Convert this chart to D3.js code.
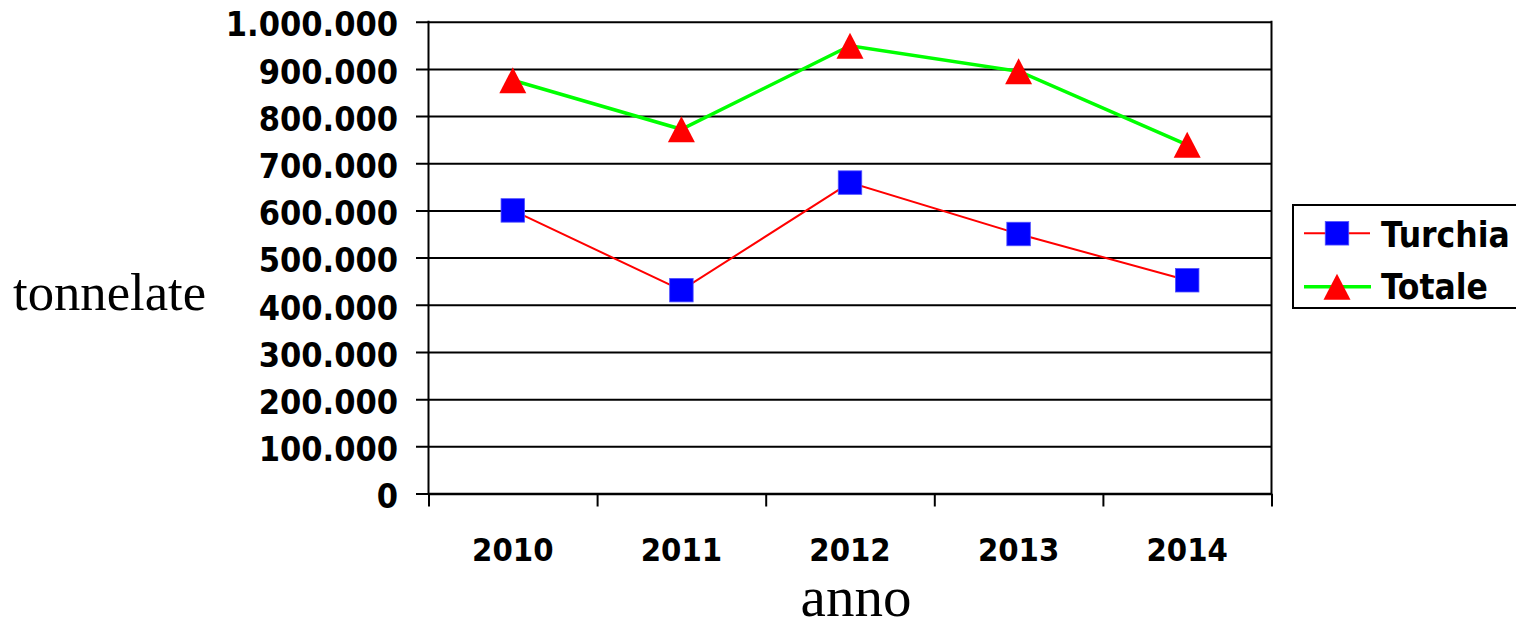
<!DOCTYPE html>
<html>
<head>
<meta charset="utf-8">
<script src="https://cdn.jsdelivr.net/npm/d3@7"></script>
<style>
  html, body { margin: 0; padding: 0; background: #fff; }
  svg { display: block; }
  .bold { font-family: 'DejaVu Sans Condensed', 'DejaVu Sans', Verdana, sans-serif; font-stretch: condensed; font-weight: bold; }
</style>
</head>
<body>
<svg id="chart" width="1516" height="627"></svg>
<script>
const years = ["2010", "2011", "2012", "2013", "2014"];
const turchia = [600000, 431000, 659000, 550000, 452000];
const totale = [876000, 772000, 949000, 895000, 739000];
const yTicks = [0, 100000, 200000, 300000, 400000, 500000, 600000, 700000, 800000, 900000, 1000000];
const seriesNames = ["Turchia", "Totale"];

const svg = d3.select("#chart");
const plotLeft = 428.5, plotRight = 1271.5, plotTop = 21.7, plotBottom = 493.5;

const x = d3.scaleBand().domain(years).range([plotLeft, plotRight]).padding(0);
const xEdges = d3.scaleLinear().domain([0, years.length]).range([plotLeft, plotRight]);
const y = d3.scaleLinear().domain([0, 1000000]).range([plotBottom, plotTop]);

const loc = d3.formatLocale({decimal: ",", thousands: ".", grouping: [3], currency: ["", "€"]});
const fmt = loc.format(",d");

// Y axis with gridlines
const yAxis = d3.axisLeft(y).tickValues(yTicks).tickFormat(fmt)
  .tickSizeInner(-(plotRight - 416)).tickSizeOuter(0).tickPadding(18);
const gy = svg.append("g").attr("transform", "translate(416,0)").call(yAxis);
gy.select(".domain").remove();
gy.selectAll(".tick line").attr("stroke", "#000").attr("stroke-width", 2);
gy.selectAll(".tick text").attr("class", "bold").attr("font-size", 34)
  .attr("dy", "0.42em").attr("fill", "#000");

// axis lines
svg.append("line").attr("x1", plotLeft).attr("x2", plotLeft).attr("y1", plotTop - 1).attr("y2", plotBottom)
  .attr("stroke", "#000").attr("stroke-width", 2);
svg.append("line").attr("x1", plotRight).attr("x2", plotRight).attr("y1", plotTop - 1).attr("y2", plotBottom)
  .attr("stroke", "#000").attr("stroke-width", 2);

// X axis tick marks at band edges
const xAxis = d3.axisBottom(xEdges).tickValues(d3.range(years.length + 1))
  .tickFormat("").tickSizeInner(13).tickSizeOuter(0);
const gx = svg.append("g").attr("transform", `translate(0,${plotBottom})`).call(xAxis);
gx.select(".domain").attr("stroke", "#000").attr("stroke-width", 2.5);
gx.selectAll(".tick line").attr("stroke", "#000").attr("stroke-width", 2);

// X labels
svg.append("g").selectAll("text").data(years).join("text")
  .attr("class", "bold")
  .attr("x", d => x(d) + x.bandwidth() / 2)
  .attr("y", 561)
  .attr("text-anchor", "middle")
  .attr("font-size", 32.5)
  .text(d => d);

// Axis titles
svg.append("text").attr("x", 13).attr("y", 310)
  .attr("font-family", "'Liberation Serif', 'Times New Roman', serif").attr("font-size", 52.7)
  .text("tonnelate");
svg.append("text").attr("x", 856).attr("y", 616).attr("text-anchor", "middle")
  .attr("font-family", "'Liberation Serif', 'Times New Roman', serif").attr("font-size", 57)
  .text("anno");

const cx = (d, i) => x(years[i]) + x.bandwidth() / 2;
const line = d3.line().x((d, i) => cx(d, i)).y(d => y(d));

// Lines
svg.append("path").datum(totale).attr("d", line).attr("fill", "none")
  .attr("stroke", "#00ff00").attr("stroke-width", 3.5);
svg.append("path").datum(turchia).attr("d", line).attr("fill", "none")
  .attr("stroke", "#ff0000").attr("stroke-width", 2);

const sq = 23.5;
const triW = 27, triH = 26;
function triPath(px, py) {
  return `M${px},${py - triH / 2}L${px + triW / 2},${py + triH / 2}L${px - triW / 2},${py + triH / 2}Z`;
}

// Markers
svg.append("g").selectAll("path").data(totale).join("path")
  .attr("d", (d, i) => triPath(cx(d, i), y(d)))
  .attr("fill", "#ff0000");
svg.append("g").selectAll("rect").data(turchia).join("rect")
  .attr("x", (d, i) => cx(d, i) - sq / 2).attr("y", d => y(d) - sq / 2)
  .attr("width", sq).attr("height", sq)
  .attr("fill", "#0000ff").attr("stroke", "#5050ff").attr("stroke-width", 0.8);

// Legend
const lg = svg.append("g");
lg.append("rect").attr("x", 1293).attr("y", 205).attr("width", 260).attr("height", 103)
  .attr("fill", "#fff").attr("stroke", "#000").attr("stroke-width", 2);
const legY = [233.3, 286.7];
const legBase = [246.7, 298.5];
lg.append("line").attr("x1", 1304).attr("x2", 1370).attr("y1", legY[0]).attr("y2", legY[0])
  .attr("stroke", "#ff0000").attr("stroke-width", 2);
lg.append("rect").attr("x", 1337 - sq / 2).attr("y", legY[0] - sq / 2).attr("width", sq).attr("height", sq)
  .attr("fill", "#0000ff").attr("stroke", "#5050ff").attr("stroke-width", 0.8);
lg.append("line").attr("x1", 1304).attr("x2", 1371).attr("y1", legY[1]).attr("y2", legY[1])
  .attr("stroke", "#00ff00").attr("stroke-width", 3.5);
lg.append("path").attr("d", triPath(1337, legY[1])).attr("fill", "#ff0000");
lg.selectAll("text.leg").data(seriesNames).join("text")
  .attr("class", "leg bold")
  .attr("x", 1381).attr("y", (d, i) => legBase[i])
  .attr("font-size", 35)
  .text(d => d);
</script>
</body>
</html>
